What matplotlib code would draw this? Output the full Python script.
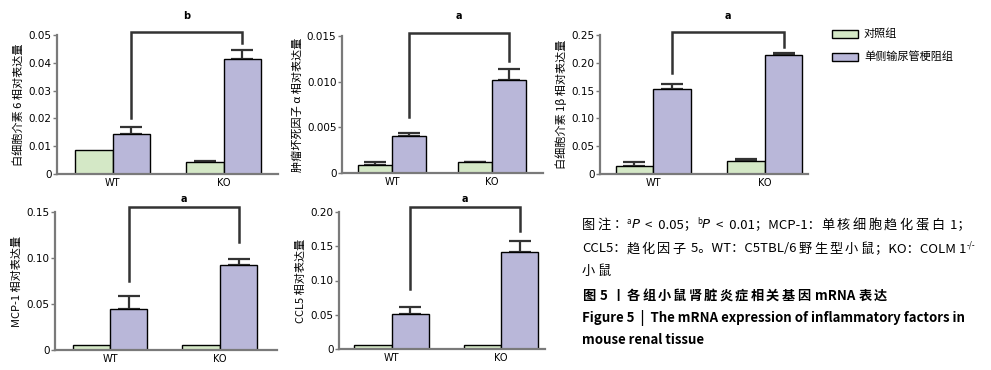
import numpy as np
import matplotlib
matplotlib.use("Agg")
import matplotlib.pyplot as plt
from matplotlib.patches import Rectangle

plt.rcParams['font.family'] = ['Noto Sans CJK SC', 'DejaVu Sans']

# ---------- data ----------
groups = ["WT", "KO"]
series_names = ["对照组", "单侧输尿管梗阻组"]

il6_ctrl = [0.0085, 0.0042]
il6_ctrl_err = [0.0, 0.0005]
il6_uuo = [0.0145, 0.0413]
il6_uuo_err = [0.0025, 0.0032]

tnf_ctrl = [0.0009, 0.00116]
tnf_ctrl_err = [0.0003, 0.00005]
tnf_uuo = [0.00403, 0.01013]
tnf_uuo_err = [0.00033, 0.00124]

il1b_ctrl = [0.015, 0.024]
il1b_ctrl_err = [0.0066, 0.003]
il1b_uuo = [0.152, 0.214]
il1b_uuo_err = [0.010, 0.003]

mcp1_ctrl = [0.005, 0.005]
mcp1_ctrl_err = [0.0, 0.0]
mcp1_uuo = [0.0443, 0.0919]
mcp1_uuo_err = [0.0142, 0.0073]

ccl5_ctrl = [0.0059, 0.0059]
ccl5_ctrl_err = [0.0, 0.0]
ccl5_uuo = [0.0517, 0.1415]
ccl5_uuo_err = [0.0103, 0.0155]

# bracket: (WT end, KO end, top), significance letter
il6_bracket = (0.0203, 0.0472, 0.051)
tnf_bracket = (0.0061, 0.0123, 0.01536)
il1b_bracket = (0.181, 0.229, 0.255)
mcp1_bracket = (0.0752, 0.117, 0.1555)
ccl5_bracket = (0.0878, 0.1717, 0.2073)
sig_letters = ["b", "a", "a", "a", "a"]

ylabels = ["白细胞介素 6 相对表达量", "肿瘤坏死因子 α 相对表达量", "白细胞介素 1β 相对表达量",
           "MCP-1 相对表达量", "CCL5 相对表达量"]

il6_ticks = [0, 0.01, 0.02, 0.03, 0.04, 0.05]
il6_ticklabels = ["0", "0.01", "0.02", "0.03", "0.04", "0.05"]
tnf_ticks = [0, 0.005, 0.010, 0.015]
tnf_ticklabels = ["0", "0.005", "0.010", "0.015"]
il1b_ticks = [0, 0.05, 0.10, 0.15, 0.20, 0.25]
il1b_ticklabels = ["0", "0.05", "0.10", "0.15", "0.20", "0.25"]
mcp1_ticks = [0, 0.05, 0.10, 0.15]
mcp1_ticklabels = ["0", "0.05", "0.10", "0.15"]
ccl5_ticks = [0, 0.05, 0.10, 0.15, 0.20]
ccl5_ticklabels = ["0", "0.05", "0.10", "0.15", "0.20"]

GREEN = "#d4e8c6"
PURPLE = "#b9b7d9"
AXC = "#7a7a7a"
DARK = "#333333"

W, H = 991, 370
fig = plt.figure(figsize=(W / 100, H / 100), dpi=100)


def px_axes(l, r, t, b):
    return fig.add_axes([l / W, (H - b) / H, (r - l) / W, (b - t) / H])


def draw_panel(ax, ctrl, ctrl_err, uuo, uuo_err, bracket, letter, ticks, ticklabels,
               ylabel, xlim, letter_off):
    x = np.arange(len(groups))
    bw = 0.34
    ax.bar(x - bw / 2, ctrl, bw, color=GREEN, edgecolor="black", lw=1, zorder=2)
    ax.bar(x + bw / 2, uuo, bw, color=PURPLE, edgecolor="black", lw=1, zorder=2)
    for xs, vals, errs in [(x - bw / 2, ctrl, ctrl_err), (x + bw / 2, uuo, uuo_err)]:
        for xi, v, e in zip(xs, vals, errs):
            if e > 0:
                ax.errorbar(xi, v, yerr=[[0], [e]], fmt="none", ecolor=DARK,
                            elinewidth=1.6, capsize=8, capthick=1.6, zorder=1, clip_on=False)
    # significance bracket
    y0, y1, yt = bracket
    xa, xb = x[0] + bw / 2, x[1] + bw / 2
    ax.plot([xa, xa, xb, xb], [y0, yt, yt, y1], color=DARK, lw=1.8, clip_on=False,
            solid_joinstyle="miter")
    ax.annotate(letter, ((xa + xb) / 2, yt), xytext=(0, letter_off), textcoords="offset points",
                ha="center", va="center", fontsize=7, fontweight="bold",
                family="DejaVu Sans", annotation_clip=False)

    ax.set_xlim(*xlim)
    ax.set_ylim(ticks[0], ticks[-1])
    ax.set_yticks(ticks)
    ax.set_yticklabels(ticklabels, family="DejaVu Sans", fontsize=7.5)
    ax.set_xticks(x)
    ax.set_xticklabels(groups, family="DejaVu Sans", fontsize=7)
    ax.tick_params(axis="y", length=3, width=1, color=AXC, pad=1)
    ax.tick_params(axis="x", length=0, pad=3)
    for s in ["top", "right"]:
        ax.spines[s].set_visible(False)
    for s in ["left", "bottom"]:
        ax.spines[s].set_color(AXC)
        ax.spines[s].set_linewidth(1.6)
    ax.set_ylabel(ylabel, fontsize=8, labelpad=3)
    ax.patch.set_alpha(0)


ax1 = px_axes(57, 278, 35, 174)
draw_panel(ax1, il6_ctrl, il6_ctrl_err, il6_uuo, il6_uuo_err, il6_bracket, sig_letters[0],
           il6_ticks, il6_ticklabels, ylabels[0], (-0.5, 1.49), 12)
ax2 = px_axes(342, 543, 36, 173)
draw_panel(ax2, tnf_ctrl, tnf_ctrl_err, tnf_uuo, tnf_uuo_err, tnf_bracket, sig_letters[1],
           tnf_ticks, tnf_ticklabels, ylabels[1], (-0.5, 1.51), 12)
ax3 = px_axes(600, 808, 35, 174)
draw_panel(ax3, il1b_ctrl, il1b_ctrl_err, il1b_uuo, il1b_uuo_err, il1b_bracket, sig_letters[2],
           il1b_ticks, il1b_ticklabels, ylabels[2], (-0.48, 1.39), 12)
ax4 = px_axes(55, 277, 212, 350)
draw_panel(ax4, mcp1_ctrl, mcp1_ctrl_err, mcp1_uuo, mcp1_uuo_err, mcp1_bracket, sig_letters[3],
           mcp1_ticks, mcp1_ticklabels, ylabels[3], (-0.5, 1.52), 6)
ax5 = px_axes(339, 545, 212, 349)
draw_panel(ax5, ccl5_ctrl, ccl5_ctrl_err, ccl5_uuo, ccl5_uuo_err, ccl5_bracket, sig_letters[4],
           ccl5_ticks, ccl5_ticklabels, ylabels[4], (-0.48, 1.40), 6)

# ---------- legend ----------
for i, (name, col) in enumerate(zip(series_names, [GREEN, PURPLE])):
    yc = 34 + i * 23
    fig.patches.append(Rectangle((832 / W, (H - yc - 4) / H), 26 / W, 8 / H, facecolor=col,
                                 edgecolor="black", lw=1, transform=fig.transFigure))
    fig.text(864 / W, (H - yc) / H, name, fontsize=8, va="center", ha="left")

# ---------- caption ----------
renderer = fig.canvas.get_renderer()


def is_han(c):
    return '\u4e00' <= c <= '\u9fff'


def write_runs(x_px, y_px, parts, size=9.5, weight="normal", track=2.5):
    x = x_px / W

    def put(txt, kw, dy=0):
        t = fig.text(x, (H - y_px + dy) / H, txt, **kw)
        return t.get_window_extent(renderer).width / W

    for txt, opt in parts:
        kw = dict(fontsize=size, fontweight=weight, va="center", ha="left")
        if opt == "sup":
            kw["fontsize"] = size * 0.6
            x += put(txt, kw, 4)
            continue
        if opt == "it":
            kw["style"] = "italic"
            kw["family"] = ["DejaVu Sans"]
            x += put(txt, kw)
            continue
        # split into han characters (tracked) and other chunks
        chunk = ""
        for c in txt:
            if is_han(c):
                if chunk:
                    x += put(chunk, kw)
                    chunk = ""
                x += put(c, kw) + track / W
            else:
                chunk += c
        if chunk:
            x += put(chunk, kw)


write_runs(582, 225, [("图注：", None), ("a", "sup"), ("P", "it"), ("  <  0.05；", None),
                      ("b", "sup"), ("P", "it"), ("  <  0.01；MCP-1：单核细胞趋化蛋白 1；", None)])
write_runs(582, 249, [("CCL5：趋化因子 5。WT：C5TBL/6 野生型小鼠；KO：COLM 1", None),
                      ("-/-", "sup")], track=2.0)
write_runs(582, 272, [("小鼠", None)])
write_runs(582, 296, [("图 5 丨各组小鼠肾脏炎症相关基因 mRNA 表达", None)], weight="bold",
           track=2.2)
write_runs(582, 318, [("Figure 5  |  The mRNA expression of inflammatory factors in", None)],
           weight="bold")
write_runs(582, 340, [("mouse renal tissue", None)], weight="bold")

fig.savefig("out.png", dpi=100)
